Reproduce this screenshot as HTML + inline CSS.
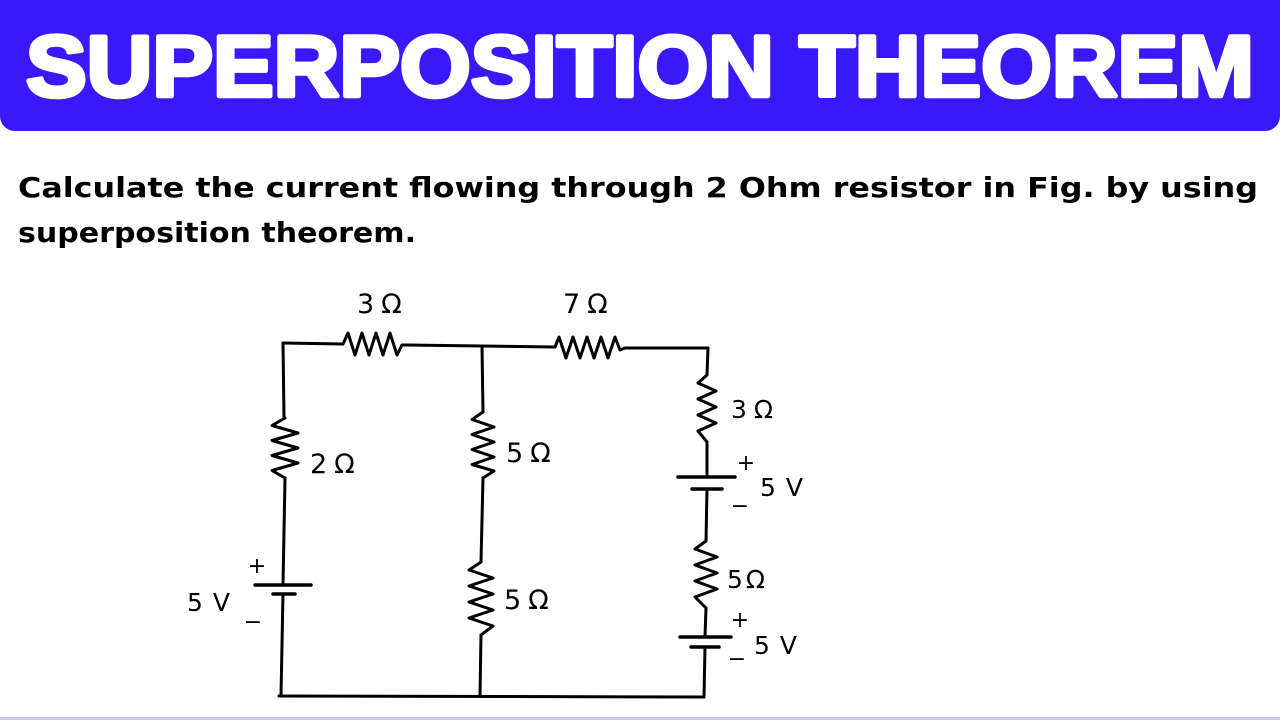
<!DOCTYPE html>
<html>
<head>
<meta charset="utf-8">
<style>
html,body{margin:0;padding:0;background:#fff;}
body{width:1280px;height:720px;position:relative;overflow:hidden;}
.hdr{position:absolute;left:0;top:-20px;width:1280px;height:151px;background:#3a18f7;border-radius:15px;}
.bl{position:absolute;left:0;top:717px;width:1280px;height:3px;background:#cdc9e8;}
svg{position:absolute;left:0;top:0;}
</style>
</head>
<body>
<div class="hdr"></div>
<div class="bl"></div>
<svg width="1280" height="720" viewBox="0 0 1280 720" xmlns="http://www.w3.org/2000/svg">
  <text x="26" y="96" font-family="Liberation Sans, Arial, sans-serif" font-weight="bold" font-size="86" fill="#fff" stroke="#fff" stroke-width="4.5" stroke-linejoin="round" textLength="1228" lengthAdjust="spacingAndGlyphs">SUPERPOSITION THEOREM</text>

  <text x="18" y="197" font-family="DejaVu Sans, Liberation Sans, sans-serif" font-weight="bold" font-size="28" fill="#000" textLength="1240" lengthAdjust="spacingAndGlyphs">Calculate the current flowing through 2 Ohm resistor in Fig. by using</text>
  <text x="18" y="242" font-family="DejaVu Sans, Liberation Sans, sans-serif" font-weight="bold" font-size="28" fill="#000" textLength="398" lengthAdjust="spacingAndGlyphs">superposition theorem.</text>

  <g fill="none" stroke="#000" stroke-width="3" stroke-linecap="round" stroke-linejoin="round">
    <!-- top wires -->
    <polyline points="283,343 343,344"/>
    <polyline points="343,344 348,333 355,355 362,333 369,355 376,333 383,355 390,333 397,355 402,345 407,345"/>
    <polyline points="407,345 482,346 555,347"/>
    <polyline points="555,347 559,337 566,358 573,337 580,358 587,337 594,358 601,337 608,358 615,337 620,350 625,348"/>
    <polyline points="625,348 708,348"/>

    <!-- left branch -->
    <polyline points="283,343 284,418"/>
    <polyline points="285,418 272,425.5 298,433 272,440.5 298,448 272,455.5 298,463 272,470.5 285,478"/>
    <polyline points="285,478 283,585"/>
    <line x1="255" y1="585" x2="311" y2="585" stroke-width="3.5"/>
    <line x1="273" y1="594" x2="295" y2="594" stroke-width="3.5"/>
    <polyline points="283,594 281,696"/>

    <!-- bottom wire -->
    <polyline points="279,696 704,697"/>

    <!-- middle branch -->
    <polyline points="482,346 483,412"/>
    <polyline points="483,412 472,419.5 494,427 472,434.5 494,442 472,449.5 494,457 472,464.5 494,471 483,478"/>
    <polyline points="483,478 481,562"/>
    <polyline points="481,562 469,570 493,578 469,586 493,594 469,602 493,610 469,618 493,626 481,635"/>
    <polyline points="481,635 480,696"/>

    <!-- right branch -->
    <polyline points="708,348 707,375"/>
    <polyline points="707,375 698,383 716,391 698,399 716,407 698,415 716,423 698,431 707,442"/>
    <polyline points="707,442 707,477"/>
    <line x1="678" y1="477" x2="735" y2="477" stroke-width="3.5"/>
    <line x1="692" y1="489" x2="722" y2="489" stroke-width="3.5"/>
    <polyline points="707,489 706,541"/>
    <polyline points="706,541 695,549 717,557 695,565 717,573 695,581 717,589 695,597 706,608"/>
    <polyline points="706,608 705,637"/>
    <line x1="680" y1="637" x2="731" y2="637" stroke-width="3.5"/>
    <line x1="691" y1="647" x2="719" y2="647" stroke-width="3.5"/>
    <polyline points="705,647 704,697"/>
  </g>

  <g font-family="DejaVu Sans, Liberation Sans, sans-serif" fill="#000" font-size="27" letter-spacing="7">
    <text x="357" y="313">3Ω</text>
    <text x="563" y="313">7Ω</text>
    <text x="310" y="473">2Ω</text>
    <text x="506" y="462">5Ω</text>
    <text x="731" y="418" font-size="25">3Ω</text>
    <text x="727" y="588" font-size="25" letter-spacing="3">5Ω</text>
    <text x="504" y="609">5Ω</text>
    <text x="187" y="611" font-size="25" letter-spacing="10">5V</text>
    <text x="760" y="496" font-size="25" letter-spacing="10">5V</text>
    <text x="754" y="654" font-size="25" letter-spacing="10">5V</text>
  </g>
  <g font-family="DejaVu Sans, Liberation Sans, sans-serif" fill="#000" font-size="22" text-anchor="middle">
    <text x="257" y="573">+</text>
    <text x="253" y="629">−</text>
    <text x="746" y="470">+</text>
    <text x="740" y="513">−</text>
    <text x="740" y="627">+</text>
    <text x="737" y="666">−</text>
  </g>
</svg>
</body>
</html>
